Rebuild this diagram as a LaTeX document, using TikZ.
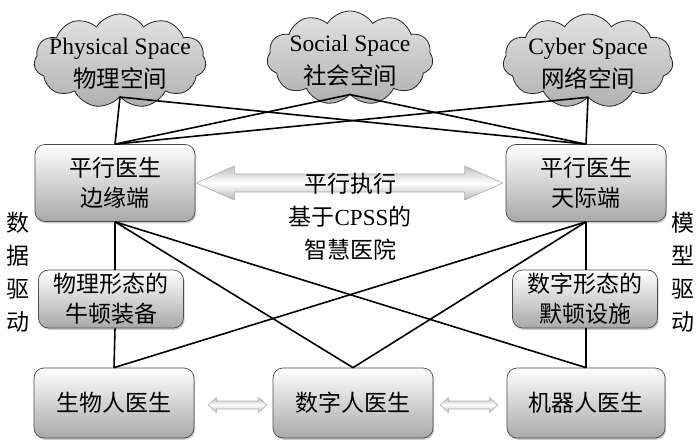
\documentclass[tikz,border=0pt]{standalone}
\usepackage{fontspec}
\setmainfont{Liberation Serif}
\newfontfamily\cjk{Noto Sans CJK SC}
\usetikzlibrary{shapes.symbols,shadows,calc}
\begin{document}
\begin{tikzpicture}[x=1pt,y=-1pt,
  box/.style={draw=gray!60!black, line width=0.7pt, rounded corners=10pt,
    top color=white, bottom color=gray!68,
    drop shadow={opacity=0.4,shadow xshift=1.2pt,shadow yshift=-1.8pt},
    font=\fontsize{23}{30}\selectfont\cjk, align=center, inner sep=0pt},
  cl/.style={cloud, cloud puffs=11, cloud puff arc=115, draw=gray!30!black,
    line width=0.8pt, top color=gray!22, bottom color=gray!62, inner sep=0pt,
    minimum width=172, minimum height=94},
  cltext/.style={align=center, font=\fontsize{23.5}{33}\selectfont, inner sep=0pt},
  link/.style={line width=1.6pt, black},
  bigarrow/.style={draw=gray!65, line width=0.6pt, top color=gray!50,
    bottom color=gray!55, middle color=white},
  side/.style={font=\fontsize{23}{33}\selectfont\cjk, align=center, inner sep=0pt},
  mid/.style={font=\fontsize{23}{33}\selectfont, align=center, inner sep=0pt}
]
\fill[white] (0,0) rectangle (700,443);
\useasboundingbox (0,0) rectangle (700,443);

% clouds
\node[cl] (pcl) at (120,61) {};
\node[cltext] (pct) at (120,64) {Physical Space\\{\cjk 物理空间}};
\node[cl, minimum width=166] (scl) at (350,58) {};
\node[cltext] (sct) at (350,61) {Social Space\\{\cjk 社会空间}};
\node[cl, minimum width=170] (ccl) at (588,61) {};
\node[cltext] (cct) at (588,64) {Cyber Space\\{\cjk 网络空间}};

% boxes
\node[box, minimum width=160, minimum height=77] (tl) at (115,183) {平行医生\\边缘端};
\node[box, minimum width=160, minimum height=77] (tr) at (586,183) {平行医生\\天际端};
\node[box, minimum width=145, minimum height=58] (ml) at (111,299) {物理形态的\\牛顿装备};
\node[box, minimum width=145, minimum height=58] (mr) at (585,299) {数字形态的\\默顿设施};
\node[box, minimum width=160, minimum height=70] (bl) at (114,403) {生物人医生};
\node[box, minimum width=160, minimum height=70] (bm) at (353,403) {数字人医生};
\node[box, minimum width=158, minimum height=70] (br) at (586,403) {机器人医生};

% links top
\draw[link] (pcl.south) -- (tl.north);
\draw[link] (pcl.south) -- (tr.north);
\draw[link] (scl.south) -- (tl.north);
\draw[link] (scl.south) -- (tr.north);
\draw[link] (ccl.south) -- (tl.north);
\draw[link] (ccl.south) -- (tr.north);

% links bottom
\draw[link] (tl.south) -- (tl.south |- ml.north);
\draw[link] (tl.south |- ml.south) -- (bl.north);
\draw[link] (tr.south) -- (tr.south |- mr.north);
\draw[link] (tr.south |- mr.south) -- (br.north);
\draw[link] (tl.south) -- (bm.north);
\draw[link] (tl.south) -- (br.north);
\draw[link] (tr.south) -- (bm.north);
\draw[link] (tr.south) -- (bl.north);

% big double arrow
\coordinate (aL) at ([xshift=1pt]tl.east);
\coordinate (aR) at ([xshift=-3pt]tr.west);
\path[bigarrow] (aL) -- ++(38,-17) -- ++(0,8) -- ($(aR)+(-38,-9)$) -- ++(0,-8)
  -- (aR) -- ++(-38,17) -- ++(0,-8) -- ($(aL)+(38,9)$) -- ++(0,8) -- cycle;

% small double arrows
\coordinate (b1L) at ([xshift=14pt,yshift=-2pt]bl.east);
\coordinate (b1R) at ([xshift=-6pt,yshift=-2pt]bm.west);
\path[bigarrow] (b1L) -- ++(8,-7.5) -- ++(0,3.5) -- ($(b1R)+(-8,-4)$) -- ++(0,-3.5)
  -- (b1R) -- ++(-8,7.5) -- ++(0,-3.5) -- ($(b1L)+(8,4)$) -- ++(0,3.5) -- cycle;
\coordinate (b2L) at ([xshift=7pt,yshift=-2pt]bm.east);
\coordinate (b2R) at ([xshift=-9pt,yshift=-2pt]br.west);
\path[bigarrow] (b2L) -- ++(8,-7.5) -- ++(0,3.5) -- ($(b2R)+(-8,-4)$) -- ++(0,-3.5)
  -- (b2R) -- ++(-8,7.5) -- ++(0,-3.5) -- ($(b2L)+(8,4)$) -- ++(0,3.5) -- cycle;

% middle text
\node[mid] (hosp) at (350,217) {{\cjk 平行执行}\\{\cjk 基于}CPSS{\cjk 的}\\{\cjk 智慧医院}};

% side labels
\node[side] (dd) at (18,272) {数\\据\\驱\\动};
\node[side] (md) at (683,272) {模\\型\\驱\\动};
\end{tikzpicture}
\end{document}
